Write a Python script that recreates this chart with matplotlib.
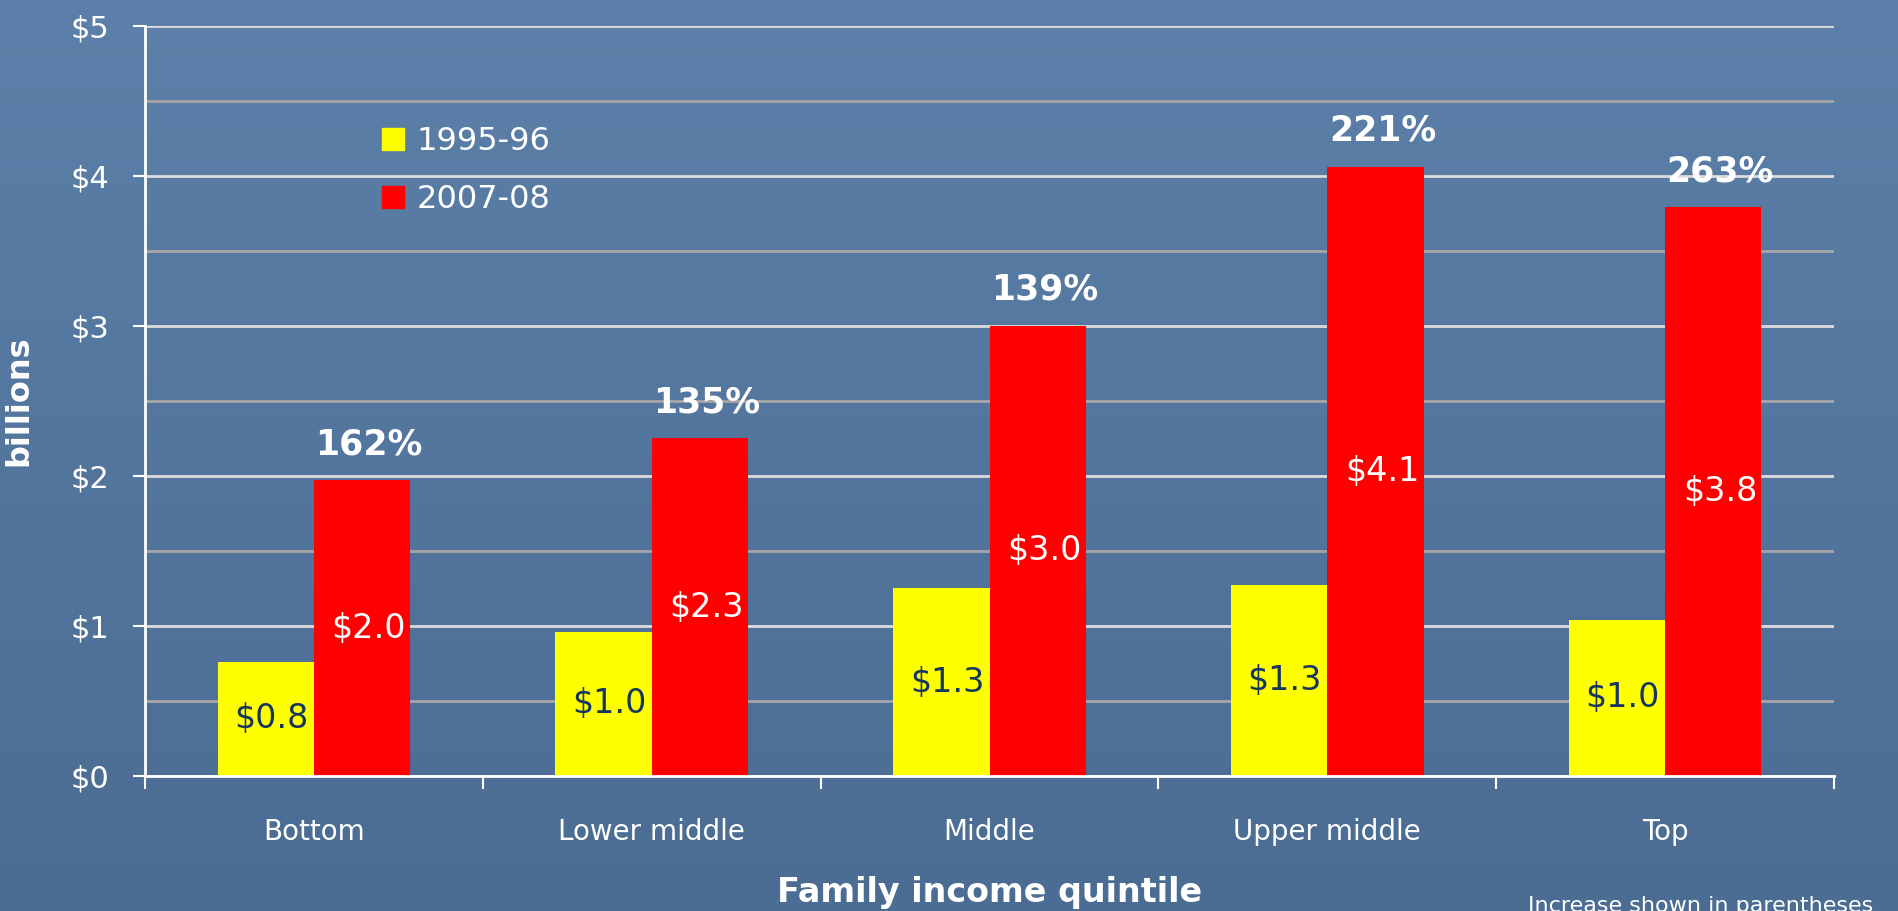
import numpy as np
import matplotlib
matplotlib.use("Agg")
import matplotlib.pyplot as plt
from matplotlib.patches import Patch
from matplotlib.colors import LinearSegmentedColormap

# data (billions of dollars)
quintiles = ["Bottom", "Lower middle", "Middle", "Upper middle", "Top"]
spend_9596 = [0.76, 0.96, 1.25, 1.27, 1.04]
spend_0708 = [1.97, 2.25, 3.00, 4.06, 3.79]
labels_9596 = ["$0.8", "$1.0", "$1.3", "$1.3", "$1.0"]
labels_0708 = ["$2.0", "$2.3", "$3.0", "$4.1", "$3.8"]
pct_increase = ["162%", "135%", "139%", "221%", "263%"]
yticks = [0, 1, 2, 3, 4, 5]
ytick_labels = ["$0", "$1", "$2", "$3", "$4", "$5"]

plt.rcParams['font.family'] = ['DejaVu Sans']

fig = plt.figure(figsize=(18.98, 9.11), dpi=100)

# background gradient, slide style
bg = fig.add_axes([0, 0, 1, 1], zorder=-10)
cmap = LinearSegmentedColormap.from_list("bg", ["#5c80a9", "#4b6c93"])
grad = np.linspace(0, 1, 256).reshape(-1, 1)
bg.imshow(grad, aspect="auto", cmap=cmap, extent=[0, 1, 0, 1])
bg.axis("off")

ax = fig.add_axes([0.0764, 0.1482, 0.8899, 0.8233])
ax.patch.set_alpha(0)

x = np.arange(len(quintiles))
w = 0.285
b1 = ax.bar(x - w / 2, spend_9596, w, color="#ffff00", zorder=3)
b2 = ax.bar(x + w / 2, spend_0708, w, color="#ff0000", zorder=3)

for i in range(len(quintiles)):
    ax.annotate(labels_9596[i], (x[i] - w / 2, spend_9596[i] / 2), xytext=(4, 0),
                textcoords="offset points", ha="center", va="center",
                fontsize=24, color="#17365d", zorder=4)
    ax.annotate(labels_0708[i], (x[i] + w / 2, spend_0708[i] / 2), xytext=(5, 0),
                textcoords="offset points", ha="center", va="center",
                fontsize=24, color="white", zorder=4)
    ax.annotate(pct_increase[i], (x[i] + w / 2, spend_0708[i]), xytext=(5, 26),
                textcoords="offset points", ha="center", va="center",
                fontsize=25, fontweight="bold", color="white", zorder=4)

ax.set_xlim(-0.5, len(quintiles) - 0.5)
ax.set_ylim(0, 5)
ax.set_yticks(yticks)
ax.set_yticklabels(ytick_labels)
ax.set_yticks(np.arange(0.5, 5, 1), minor=True)
ax.set_xticks(x)
ax.set_xticklabels(quintiles)
ax.set_xticks(np.arange(-0.5, len(quintiles), 1), minor=True)

ax.grid(axis="y", which="major", color="#dcdcdc", linewidth=2, zorder=1)
ax.grid(axis="y", which="minor", color="#a6a6a6", linewidth=2, zorder=1)

ax.tick_params(axis="x", which="major", length=0, pad=30, labelsize=20, labelcolor="white")
ax.tick_params(axis="x", which="minor", length=9, width=1.5, color="white", direction="out")
ax.tick_params(axis="y", which="major", length=9, width=1.5, color="white", pad=17,
               labelsize=22, labelcolor="white")
ax.tick_params(axis="y", which="minor", length=0)

for s in ["top", "right"]:
    ax.spines[s].set_visible(False)
for s in ["left", "bottom"]:
    ax.spines[s].set_color("white")
    ax.spines[s].set_linewidth(2)
    ax.spines[s].set_zorder(5)

ax.set_ylabel("billions", fontsize=23, fontweight="bold", color="white")
ax.yaxis.set_label_coords(-0.0657, 0.5)
ax.set_xlabel("Family income quintile", fontsize=24, fontweight="bold", color="white")
ax.xaxis.set_label_coords(0.5, -0.133)

handles = [Patch(color="#ffff00"), Patch(color="#ff0000")]
ax.legend(handles, ["1995-96", "2007-08"], loc="upper left", bbox_to_anchor=(0.123, 0.905),
          frameon=False, fontsize=23, labelcolor="white", handlelength=0.7,
          handleheight=0.7, handletextpad=0.4, labelspacing=0.85)

fig.text(1528 / 1898, 1 - 896 / 911, "Increase shown in parentheses", fontsize=16,
         color="white", ha="left", va="top")

fig.savefig("out.png", dpi=100)
